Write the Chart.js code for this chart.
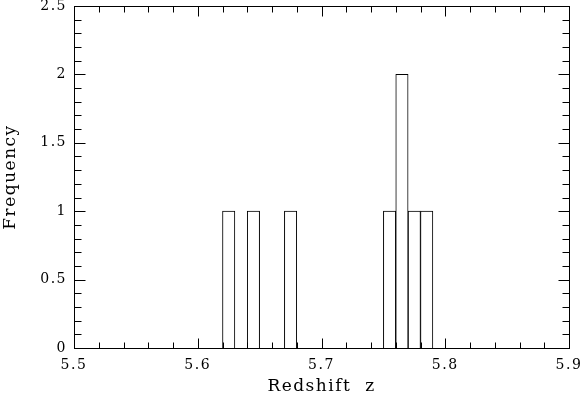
<!DOCTYPE html>
<html>
<head>
<meta charset="utf-8">
<script src="https://cdn.jsdelivr.net/npm/chart.js@4/dist/chart.umd.min.js"></script>
<style>
  html, body { margin: 0; padding: 0; background: #fff; }
  #wrap { width: 582px; height: 397px; }
</style>
</head>
<body>
<div id="wrap"><canvas id="chart"></canvas></div>
<script>
// histogram bins (left edges), width 0.01
const binStarts = [5.62, 5.64, 5.67, 5.75, 5.76, 5.77, 5.78];
const binCounts = [1, 1, 1, 1, 2, 1, 1];
const binWidth = 0.01;

const xMin = 5.5, xMax = 5.9;
const yMin = 0, yMax = 2.5;

// PGPLOT-style inward ticks on all four sides
const boxTicks = {
  id: 'boxTicks',
  beforeDraw(chart) {
    chart.ctx.letterSpacing = '1.5px';
  },
  afterDraw(chart) {
    const { ctx, chartArea: a, scales: { x, y } } = chart;
    ctx.save();
    ctx.letterSpacing = '0px';
    ctx.strokeStyle = '#000';
    ctx.lineWidth = 1;
    const L = Math.round(a.left) + 0.5, R = Math.round(a.right) + 0.5;
    const T = Math.round(a.top) + 0.5, B = Math.round(a.bottom) + 0.5;
    ctx.strokeRect(L, T, R - L, B - T);
    ctx.beginPath();
    for (let i = 0; i <= 20; i++) {
      const px = Math.round(x.getPixelForValue(xMin + i * 0.02)) + 0.5;
      const len = i % 5 === 0 ? 10 : 6;
      ctx.moveTo(px, B); ctx.lineTo(px, B - len);
      ctx.moveTo(px, T); ctx.lineTo(px, T + len);
    }
    for (let i = 0; i <= 25; i++) {
      const py = Math.round(y.getPixelForValue(yMin + i * 0.1)) + 0.5;
      const len = i % 5 === 0 ? 11 : 7;
      ctx.moveTo(L, py); ctx.lineTo(L + len, py);
      ctx.moveTo(R, py); ctx.lineTo(R - len, py);
    }
    ctx.stroke();
    ctx.restore();
  }
};

const font = 'DejaVu Serif';

new Chart(document.getElementById('chart'), {
  type: 'bar',
  data: {
    datasets: [{
      data: binStarts.map((s, i) => ({ x: s + binWidth / 2, y: binCounts[i] })),
      backgroundColor: '#fff',
      borderColor: '#000',
      borderWidth: 1,
      borderSkipped: 'start',
      barPercentage: 1,
      categoryPercentage: 1
    }]
  },
  options: {
    responsive: true,
    maintainAspectRatio: false,
    animation: false,
    events: [],
    layout: { padding: { top: 6, right: 13, left: 0, bottom: 0 } },
    plugins: { legend: { display: false }, tooltip: { enabled: false } },
    scales: {
      x: {
        type: 'linear',
        min: xMin,
        max: xMax,
        offset: false,
        afterFit: s => { s.height = 49; s.paddingLeft = 0; s.paddingRight = 0; },
        grid: { display: false, drawTicks: false, offset: false },
        border: { display: false },
        ticks: {
          stepSize: 0.1,
          padding: 9,
          color: '#000',
          font: { family: font, size: 14 },
          callback: v => Number(v.toFixed(1)).toString()
        },
        title: {
          display: true,
          text: 'Redshift  z',
          color: '#000',
          font: { family: font, size: 17 },
          padding: { top: 0, bottom: 0 }
        }
      },
      y: {
        min: yMin,
        max: yMax,
        afterFit: s => { s.width = 74; s.paddingTop = 0; s.paddingBottom = 0; },
        grid: { display: false, drawTicks: false },
        border: { display: false },
        ticks: {
          stepSize: 0.5,
          padding: 7,
          color: '#000',
          font: { family: font, size: 14 },
          callback: v => Number(v.toFixed(1)).toString()
        },
        title: {
          display: true,
          text: 'Frequency',
          color: '#000',
          font: { family: font, size: 17 },
          padding: { top: 0, bottom: 0 }
        }
      }
    }
  },
  plugins: [boxTicks]
});
</script>
</body>
</html>
